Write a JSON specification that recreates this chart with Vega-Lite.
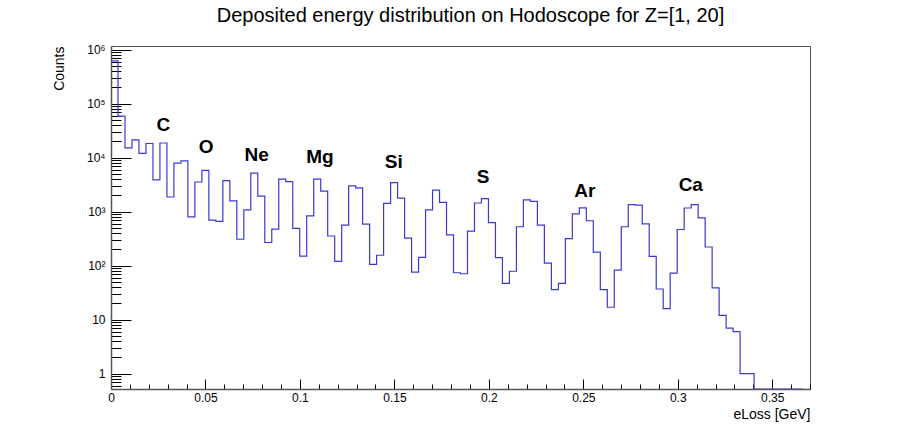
{
  "$schema": "https://vega.github.io/schema/vega-lite/v6.json",
  "width": 699,
  "height": 343,
  "autosize": {"type": "none"},
  "padding": {"left": 111, "top": 46, "right": 98, "bottom": 35},
  "background": "white",
  "config": {
    "font": "Liberation Sans",
    "view": {"stroke": "#555555", "strokeWidth": 1},
    "axis": {"grid": false, "domainColor": "#555555", "tickColor": "#000000", "labelColor": "#000000", "titleColor": "#000000", "labelFont": "Liberation Sans", "titleFont": "Liberation Sans", "titleFontWeight": "normal", "labelFontSize": 12, "titleFontSize": 14, "labelOverlap": false, "labelFlush": false}
  },
  "title": {"text": "Deposited energy distribution on Hodoscope for Z=[1, 20]", "fontSize": 20, "fontWeight": "normal", "font": "Liberation Sans", "color": "#000000", "anchor": "middle", "dx": 10, "offset": 18},
  "encoding": {
    "x": {
      "field": "eLoss", "type": "quantitative",
      "scale": {"domain": [0, 0.37], "nice": false, "zero": false},
      "axis": {
        "title": "eLoss [GeV]", "titleAnchor": "end", "titleAlign": "right", "titlePadding": -1,
        "values": [0, 0.01, 0.02, 0.03, 0.04, 0.05, 0.06, 0.07, 0.08, 0.09, 0.1, 0.11, 0.12, 0.13, 0.14, 0.15, 0.16, 0.17, 0.18, 0.19, 0.2, 0.21, 0.22, 0.23, 0.24, 0.25, 0.26, 0.27, 0.28, 0.29, 0.3, 0.31, 0.32, 0.33, 0.34, 0.35, 0.36, 0.37],
        "labelExpr": "abs(datum.value*20 - round(datum.value*20)) < 0.000001 ? format(datum.value, '.2~f') : ''",
        "tickSize": {"condition": {"test": "abs(datum.value*20 - round(datum.value*20)) < 0.000001", "value": -10}, "value": -5},
        "labelPadding": 13,
        "domainWidth": 1.5
      }
    },
    "y": {
      "field": "counts", "type": "quantitative",
      "scale": {"type": "log", "domain": [0.521, 1170000], "clamp": true, "nice": false},
      "axis": {
        "title": "Counts", "titleAnchor": "end", "titlePadding": 20,
        "values": [0.6, 0.7, 0.8, 0.9, 1, 2, 3, 4, 5, 6, 7, 8, 9, 10, 20, 30, 40, 50, 60, 70, 80, 90, 100, 200, 300, 400, 500, 600, 700, 800, 900, 1000, 2000, 3000, 4000, 5000, 6000, 7000, 8000, 9000, 10000, 20000, 30000, 40000, 50000, 60000, 70000, 80000, 90000, 100000, 200000, 300000, 400000, 500000, 600000, 700000, 800000, 900000, 1000000],
        "labelExpr": "datum.value == 1 ? '1' : datum.value == 10 ? '10' : datum.value == 100 ? '10²' : datum.value == 1000 ? '10³' : datum.value == 10000 ? '10⁴' : datum.value == 100000 ? '10⁵' : datum.value == 1000000 ? '10⁶' : ''",
        "tickSize": {"condition": {"test": "indexof([1, 10, 100, 1000, 10000, 100000, 1000000], datum.value) >= 0", "value": -20}, "value": -10},
        "labelPadding": 26,
        "domainWidth": 1.5
      }
    }
  },
  "layer": [
    {
      "data": {"values": [
        {"eLoss": 0, "counts": 620000}, {"eLoss": 0.0037, "counts": 59000}, {"eLoss": 0.0074, "counts": 15200}, {"eLoss": 0.0111, "counts": 21300},
        {"eLoss": 0.0148, "counts": 12000}, {"eLoss": 0.0185, "counts": 18300}, {"eLoss": 0.0222, "counts": 3900}, {"eLoss": 0.0259, "counts": 18700},
        {"eLoss": 0.0296, "counts": 1870}, {"eLoss": 0.0333, "counts": 7900}, {"eLoss": 0.037, "counts": 8700}, {"eLoss": 0.0407, "counts": 800},
        {"eLoss": 0.0444, "counts": 3550}, {"eLoss": 0.0481, "counts": 5800}, {"eLoss": 0.0518, "counts": 700}, {"eLoss": 0.0555, "counts": 660},
        {"eLoss": 0.0592, "counts": 3760}, {"eLoss": 0.0629, "counts": 1580}, {"eLoss": 0.0666, "counts": 309}, {"eLoss": 0.0703, "counts": 1080},
        {"eLoss": 0.074, "counts": 5200}, {"eLoss": 0.0777, "counts": 1950}, {"eLoss": 0.0814, "counts": 269}, {"eLoss": 0.0851, "counts": 474},
        {"eLoss": 0.0888, "counts": 4000}, {"eLoss": 0.0925, "counts": 3600}, {"eLoss": 0.0962, "counts": 490}, {"eLoss": 0.0999, "counts": 151},
        {"eLoss": 0.1036, "counts": 837}, {"eLoss": 0.1073, "counts": 4000}, {"eLoss": 0.111, "counts": 2400}, {"eLoss": 0.1147, "counts": 355},
        {"eLoss": 0.1184, "counts": 120}, {"eLoss": 0.1221, "counts": 564}, {"eLoss": 0.1258, "counts": 3000}, {"eLoss": 0.1295, "counts": 2760},
        {"eLoss": 0.1332, "counts": 590}, {"eLoss": 0.1369, "counts": 106}, {"eLoss": 0.1406, "counts": 156}, {"eLoss": 0.1443, "counts": 1430},
        {"eLoss": 0.148, "counts": 3460}, {"eLoss": 0.1517, "counts": 1790}, {"eLoss": 0.1554, "counts": 323}, {"eLoss": 0.1591, "counts": 76},
        {"eLoss": 0.1628, "counts": 143}, {"eLoss": 0.1665, "counts": 1080}, {"eLoss": 0.1702, "counts": 2500}, {"eLoss": 0.1739, "counts": 1490},
        {"eLoss": 0.1776, "counts": 372}, {"eLoss": 0.1813, "counts": 74}, {"eLoss": 0.185, "counts": 71}, {"eLoss": 0.1887, "counts": 435},
        {"eLoss": 0.1924, "counts": 1450}, {"eLoss": 0.1961, "counts": 1740}, {"eLoss": 0.1998, "counts": 630}, {"eLoss": 0.2035, "counts": 141},
        {"eLoss": 0.2072, "counts": 47}, {"eLoss": 0.2109, "counts": 79}, {"eLoss": 0.2146, "counts": 526}, {"eLoss": 0.2183, "counts": 1660},
        {"eLoss": 0.222, "counts": 1550}, {"eLoss": 0.2257, "counts": 564}, {"eLoss": 0.2294, "counts": 112}, {"eLoss": 0.2331, "counts": 36},
        {"eLoss": 0.2368, "counts": 47}, {"eLoss": 0.2405, "counts": 318}, {"eLoss": 0.2442, "counts": 915}, {"eLoss": 0.2479, "counts": 1180},
        {"eLoss": 0.2516, "counts": 680}, {"eLoss": 0.2553, "counts": 179}, {"eLoss": 0.259, "counts": 36}, {"eLoss": 0.2627, "counts": 17},
        {"eLoss": 0.2664, "counts": 83}, {"eLoss": 0.2701, "counts": 526}, {"eLoss": 0.2738, "counts": 1350}, {"eLoss": 0.2775, "counts": 1320},
        {"eLoss": 0.2812, "counts": 596}, {"eLoss": 0.2849, "counts": 149}, {"eLoss": 0.2886, "counts": 37}, {"eLoss": 0.2923, "counts": 16},
        {"eLoss": 0.296, "counts": 73}, {"eLoss": 0.2997, "counts": 468}, {"eLoss": 0.3034, "counts": 1170}, {"eLoss": 0.3071, "counts": 1350},
        {"eLoss": 0.3108, "counts": 770}, {"eLoss": 0.3145, "counts": 222}, {"eLoss": 0.3182, "counts": 39}, {"eLoss": 0.3219, "counts": 12},
        {"eLoss": 0.3256, "counts": 7}, {"eLoss": 0.3293, "counts": 6}, {"eLoss": 0.333, "counts": 1}, {"eLoss": 0.3367, "counts": 1},
        {"eLoss": 0.3404, "counts": 0}, {"eLoss": 0.3441, "counts": 0}, {"eLoss": 0.3478, "counts": 0}, {"eLoss": 0.3515, "counts": 0},
        {"eLoss": 0.3552, "counts": 0}, {"eLoss": 0.3589, "counts": 0}, {"eLoss": 0.3626, "counts": 0}, {"eLoss": 0.3663, "counts": 0}
      ]},
      "mark": {"type": "line", "interpolate": "step-after", "color": "#3a3ad0", "strokeWidth": 1.2, "clip": true}
    },
    {
      "data": {"values": [
        {"name": "C", "eLoss": 0.0277, "counts": 31600},
        {"name": "O", "eLoss": 0.0503, "counts": 12000},
        {"name": "Ne", "eLoss": 0.0771, "counts": 8800},
        {"name": "Mg", "eLoss": 0.1106, "counts": 7870},
        {"name": "Si", "eLoss": 0.1497, "counts": 6450},
        {"name": "S", "eLoss": 0.197, "counts": 3360},
        {"name": "Ar", "eLoss": 0.2508, "counts": 1900},
        {"name": "Ca", "eLoss": 0.3069, "counts": 2420}
      ]},
      "mark": {"type": "text", "font": "Liberation Sans", "fontWeight": "bold", "fontSize": 19, "align": "center", "baseline": "alphabetic", "color": "#000000"},
      "encoding": {
        "text": {"field": "name"}
      }
    }
  ]
}
